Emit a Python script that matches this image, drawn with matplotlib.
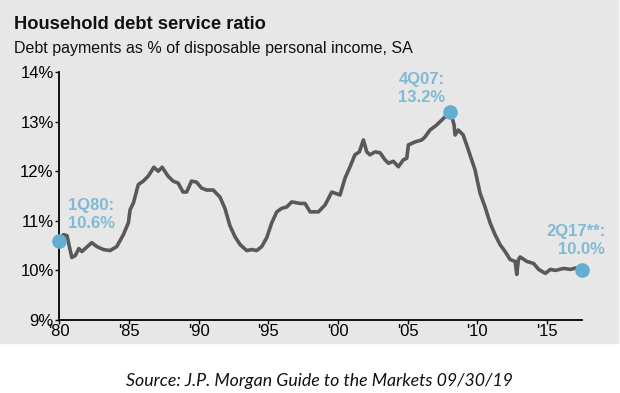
import matplotlib
matplotlib.use('Agg')
import matplotlib.pyplot as plt
from matplotlib.patches import Rectangle

# Household debt service ratio, % of disposable personal income
years = [1980.0, 1980.3, 1980.55, 1980.9, 1981.15, 1981.4, 1981.62, 1982.33, 1982.7, 1983.17,
         1983.65, 1984.12, 1984.6, 1984.96, 1985.08, 1985.32, 1985.67, 1986.03, 1986.38, 1986.79,
         1987.1, 1987.38, 1987.81, 1988.17, 1988.53, 1988.88, 1989.14, 1989.49, 1989.85, 1990.21,
         1990.58, 1991.05, 1991.53, 1991.89, 1992.25, 1992.61, 1992.98, 1993.45, 1993.82, 1994.17,
         1994.53, 1994.89, 1995.25, 1995.61, 1995.96, 1996.33, 1996.68, 1996.91, 1997.28, 1997.64,
         1998.0, 1998.36, 1998.6, 1999.08, 1999.56, 2000.15, 2000.51, 2000.87, 2001.22, 2001.54,
         2001.83, 2002.07, 2002.3, 2002.67, 2003.03, 2003.38, 2003.63, 2003.98, 2004.34, 2004.7,
         2004.94, 2005.06, 2005.53, 2006.02, 2006.25, 2006.61, 2007.08, 2007.45, 2007.82, 2008.08,
         2008.34, 2008.41, 2008.64, 2008.99, 2009.24, 2009.48, 2009.84, 2010.2, 2010.56, 2010.92,
         2011.28, 2011.64, 2012.0, 2012.36, 2012.72, 2012.84, 2012.96, 2013.08, 2013.57, 2014.05,
         2014.41, 2014.89, 2015.25, 2015.61, 2016.21, 2016.71, 2017.07, 2017.5]
ratio = [10.60, 10.72, 10.70, 10.26, 10.30, 10.44, 10.38, 10.56, 10.48, 10.42,
         10.40, 10.48, 10.72, 10.96, 11.22, 11.36, 11.73, 11.80, 11.90, 12.08,
         12.00, 12.08, 11.90, 11.80, 11.76, 11.58, 11.58, 11.80, 11.78, 11.66,
         11.62, 11.62, 11.48, 11.25, 10.90, 10.68, 10.52, 10.40, 10.42, 10.40,
         10.48, 10.66, 10.96, 11.18, 11.25, 11.28, 11.38, 11.37, 11.35, 11.35,
         11.18, 11.18, 11.18, 11.32, 11.58, 11.52, 11.86, 12.09, 12.33, 12.39,
         12.63, 12.39, 12.33, 12.39, 12.37, 12.23, 12.16, 12.20, 12.09, 12.23,
         12.26, 12.53, 12.59, 12.63, 12.69, 12.83, 12.93, 13.03, 13.13, 13.20,
         12.93, 12.73, 12.83, 12.73, 12.53, 12.33, 12.03, 11.56, 11.28, 10.96,
         10.72, 10.52, 10.38, 10.22, 10.18, 9.92, 10.22, 10.27, 10.18, 10.14,
         10.02, 9.94, 10.02, 10.00, 10.04, 10.02, 10.05, 10.00]

# highlighted points
point_years = [1980.0, 2008.08, 2017.5]
point_values = [10.6, 13.2, 10.0]
point_labels = ['1Q80:\n10.6%', '4Q07:\n13.2%', '2Q17**:\n10.0%']

x_ticks = [1980, 1985, 1990, 1995, 2000, 2005, 2010, 2015]
x_labels = ["'80", "'85", "'90", "'95", "'00", "'05", "'10", "'15"]
y_ticks = [9, 10, 11, 12, 13, 14]

bg = '#e7e7e7'
line_col = '#595959'
dot_col = '#62aed0'
txt_col = '#82b9d5'

fig = plt.figure(figsize=(6.2, 3.93), dpi=100)
fig.patches.append(Rectangle((0, 1 - 343 / 393), 618 / 620, 343 / 393,
                             transform=fig.transFigure, color=bg, zorder=-10))

ax = fig.add_axes([59.3 / 620, 1 - 320 / 393, (581.7 - 59.3) / 620, 248 / 393])
ax.set_facecolor('none')
ax.set_zorder(1)
ax.plot(years, ratio, color=line_col, lw=2.6, solid_joinstyle='round', zorder=2)
ax.plot(point_years, point_values, 'o', ms=9.5, color=dot_col, zorder=3, clip_on=False)

ax.set_xlim(1980, 2017.5)
ax.set_ylim(9, 14)
ax.set_xticks(x_ticks)
ax.set_xticklabels(x_labels)
ax.set_yticks(y_ticks)
ax.set_yticklabels([f'{v}%' for v in y_ticks])
for s in ['top', 'right']:
    ax.spines[s].set_visible(False)
for s in ['left', 'bottom']:
    ax.spines[s].set_linewidth(1.3)
ax.tick_params(axis='both', labelsize=12, colors='black', width=1, length=3, pad=1)
ax.tick_params(axis='x', pad=0)
for lab in ax.get_xticklabels() + ax.get_yticklabels():
    lab.set_family('Liberation Sans')

# annotations
tx = dict(color=txt_col, fontsize=12, fontweight='bold', family='Liberation Sans',
          linespacing=1.25, va='bottom')
ax.annotate(point_labels[0], (point_years[0], point_values[0]), xytext=(6, 7),
            textcoords='offset points', ha='left', **tx)
ax.annotate(point_labels[1], (point_years[1], point_values[1]), xytext=(-4, 5),
            textcoords='offset points', ha='right', **tx)
ax.annotate(point_labels[2], (point_years[2], point_values[2]), xytext=(17, 10),
            textcoords='offset points', ha='right', annotation_clip=False, **tx)

fig.text(14 / 620, 1 - 29 / 393, 'Household debt service ratio', fontsize=13.2,
         fontweight='bold', family='Liberation Sans', color='#111111')
fig.text(14 / 620, 1 - 53 / 393, 'Debt payments as % of disposable personal income, SA',
         fontsize=11.5, family='Liberation Sans', color='#111111')
fig.text(319.5 / 620, 1 - 386 / 393, 'Source: J.P. Morgan Guide to the Markets 09/30/19',
         fontsize=12.8, style='italic', family='Lato', ha='center', color='#111111')

fig.savefig('out.png', dpi=100)
